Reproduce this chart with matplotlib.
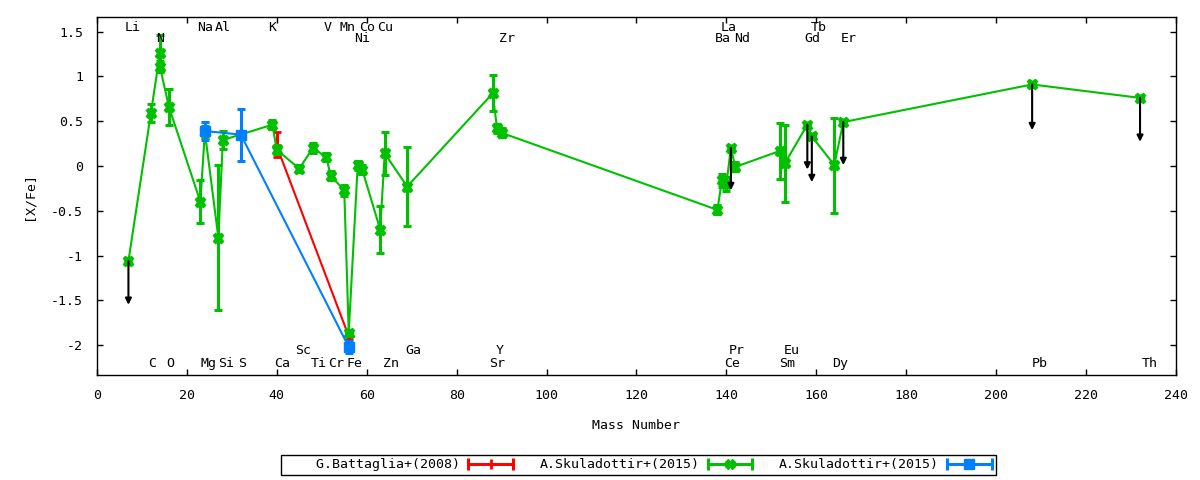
import matplotlib
matplotlib.use('Agg')
import matplotlib.pyplot as plt
from matplotlib.lines import Line2D
from matplotlib.legend_handler import HandlerLine2D, HandlerTuple

plt.rcParams['font.family'] = 'DejaVu Sans Mono'
plt.rcParams['font.size'] = 9.5
plt.rcParams['axes.unicode_minus'] = False

# G.Battaglia+(2008)
red_mass = [40, 56]
red_val = [0.22, -1.90]
red_lo = [0.12, 0.03]
red_hi = [0.16, 0.03]

# A.Skuladottir+(2015), green
green_mass = [7, 12, 14, 14, 16, 23, 24, 27, 28, 39, 40, 45, 48, 51, 52, 55, 56,
              58, 59, 63, 64, 69, 88, 89, 90, 138, 139, 140, 141, 142, 152, 153,
              158, 159, 164, 166, 208, 232]
green_val = [-1.06, 0.59, 1.26, 1.11, 0.66, -0.40, 0.38, -0.80, 0.29, 0.46, 0.18,
             -0.03, 0.20, 0.10, -0.11, -0.27, -1.86, 0.01, -0.04, -0.71, 0.14,
             -0.23, 0.81, 0.42, 0.37, -0.49, -0.16, -0.20, 0.20, -0.01, 0.17,
             0.03, 0.46, 0.33, 0.01, 0.49, 0.91, 0.76]
green_err = [0, 0.10, 0.20, 0.06, 0.20, 0.24, 0.07, 0.81, 0.10, 0.05, 0.05, 0.04,
             0.06, 0.05, 0.05, 0.06, 0, 0.05, 0.05, 0.26, 0.24, 0.44, 0.20, 0.05,
             0.05, 0.05, 0.07, 0.08, 0, 0.05, 0.31, 0.43, 0, 0, 0.53, 0, 0, 0]

# A.Skuladottir+(2015), blue
blue_mass = [24, 32, 56]
blue_val = [0.39, 0.35, -2.02]
blue_err = [0.10, 0.29, 0.07]

# upper limits (mass, from, to)
lim_mass = [7, 141, 158, 159, 166, 208, 232]
lim_from = [-1.06, 0.20, 0.46, 0.33, 0.49, 0.91, 0.76]
lim_to = [-1.55, -0.27, -0.04, -0.18, 0.01, 0.40, 0.27]

# element labels: name, x, y
el_top1 = ['Li', 'Na', 'Al', 'K', 'V', 'Mn', 'Co', 'Cu', 'La', 'Tb']
el_top1_x = [8.0, 24.0, 28.0, 39.0, 51.2, 55.7, 60.1, 64.1, 140.5, 160.5]
el_top2 = ['N', 'Ni', 'Zr', 'Ba', 'Nd', 'Gd', 'Er']
el_top2_x = [14.0, 59.0, 91.3, 139.2, 143.5, 159.2, 167.2]
el_bot1 = ['Sc', 'Ga', 'Y', 'Pr', 'Eu']
el_bot1_x = [45.9, 70.4, 89.5, 142.4, 154.6]
el_bot2 = ['C', 'O', 'Mg', 'Si', 'S', 'Ca', 'Ti', 'Cr', 'Fe', 'Zn', 'Sr', 'Ce',
           'Sm', 'Dy', 'Pb', 'Th']
el_bot2_x = [12.2, 16.3, 24.8, 28.8, 32.2, 41.2, 49.3, 53.1, 57.2, 65.3, 89.1,
             141.3, 153.5, 165.4, 209.6, 234.1]
row_y = [1.545, 1.425, -2.055, -2.20]

RED = '#ff0000'
GREEN = '#00c000'
BLUE = '#0080ff'

fig = plt.figure(figsize=(12, 4.8), dpi=100)
ax = fig.add_axes([0.0808, 0.2188, 0.8992, 0.7458])

ax.errorbar(red_mass, red_val, yerr=[red_lo, red_hi], color=RED, lw=1.5,
            elinewidth=2.2, capsize=3, capthick=2.2, marker='+', ms=7, mew=2, zorder=2)
ax.errorbar(green_mass, green_val, yerr=green_err, color=GREEN, lw=1.5,
            elinewidth=2.2, capsize=3, capthick=2.2, marker='X', ms=7.5, zorder=3)
for m, a, b in zip(lim_mass, lim_from, lim_to):
    ax.annotate('', xy=(m, b), xytext=(m, a),
                arrowprops=dict(arrowstyle='-|>', color='black', lw=1.5,
                                mutation_scale=9, shrinkA=0, shrinkB=0), zorder=3.5)
ax.errorbar(blue_mass, blue_val, yerr=blue_err, color=BLUE, lw=1.5,
            elinewidth=2.2, capsize=3, capthick=2.2, marker='s', ms=7, zorder=4)

for names, xs, y in [(el_top1, el_top1_x, row_y[0]), (el_top2, el_top2_x, row_y[1]),
                     (el_bot1, el_bot1_x, row_y[2]), (el_bot2, el_bot2_x, row_y[3])]:
    for n, x in zip(names, xs):
        ax.text(x, y, n, ha='center', va='center', fontsize=9.5, zorder=5)

ax.set_xlim(0, 240)
ax.set_ylim(-2.333, 1.663)
ax.set_xticks(range(0, 241, 20))
ax.set_yticks([-2, -1.5, -1, -0.5, 0, 0.5, 1, 1.5])
ax.set_yticklabels(['-2', '-1.5', '-1', '-0.5', '0', '0.5', '1', '1.5'])
ax.tick_params(direction='in', length=4.5, width=1, top=True, right=True, pad=10,
               labelsize=9.5)
for s in ax.spines.values():
    s.set_linewidth(1)
ax.set_xlabel('Mass Number', fontsize=9.5, labelpad=12)
ax.set_ylabel('[X/Fe]', fontsize=9.5, labelpad=11)

# legend samples: line with end caps and a point in the middle
handles = []
hmap = {tuple: HandlerTuple(ndivide=1, pad=0)}
for col, mk in [(RED, '+'), (GREEN, 'X'), (BLUE, 's')]:
    caps = Line2D([], [], color=col, lw=2, marker='|', ms=8, mew=2.2)
    mid = Line2D([], [], color=col, lw=2, marker=mk, ms=7, mew=2 if mk == '+' else 1)
    hmap[caps] = HandlerLine2D(numpoints=2, marker_pad=0)
    hmap[mid] = HandlerLine2D(numpoints=1)
    handles.append((caps, mid))
labels = ['    G.Battaglia+(2008)', 'A.Skuladottir+(2015)', 'A.Skuladottir+(2015)']
leg = fig.legend(handles, labels, handler_map=hmap,
                 loc='center', bbox_to_anchor=(0.5317, 0.0313), ncol=3,
                 markerfirst=False, handlelength=3.4, handletextpad=0.6,
                 columnspacing=2.0, borderpad=0.3, fancybox=False, framealpha=1,
                 edgecolor='black', fontsize=9.5)
leg.get_frame().set_linewidth(1)

fig.savefig('out.png', dpi=100)
